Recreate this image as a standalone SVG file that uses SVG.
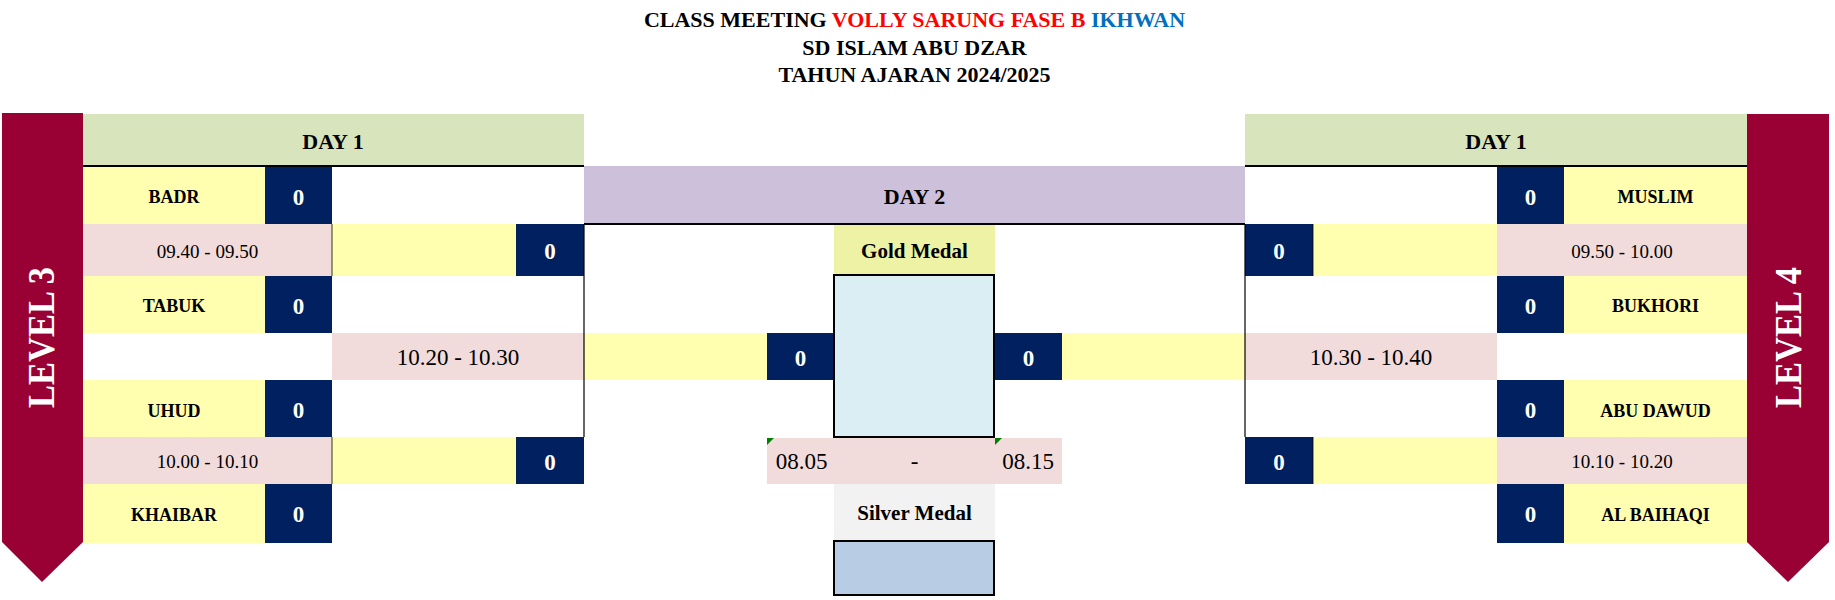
<svg xmlns="http://www.w3.org/2000/svg" width="1835" height="600" viewBox="0 0 1835 600">
<style>
text{font-family:"Liberation Serif","Times New Roman",serif;text-anchor:middle}
.bg{fill:#FFFFFF}
.hdr{fill:#D8E4BC}
.d2{fill:#CCC0DA}
.yl{fill:#FFFFAF}
.nv{fill:#002060}
.pk{fill:#F2DCDB}
.ban{fill:#990033}
.ttl{font-size:22px;font-weight:bold;fill:#000}
.day{font-size:22px;font-weight:bold;fill:#000}
.nm{font-size:18px;font-weight:bold;fill:#000}
.sc{font-size:23px;font-weight:bold;fill:#FFFFFF}
.ts{font-size:19px;fill:#000}
.tb{font-size:23px;fill:#000}
.md{font-size:21px;font-weight:bold;fill:#000}
.lv{font-size:37px;font-weight:bold;fill:#FFFFFF}
.ln{stroke:#000;fill:none}
.tri{fill:#008000}
</style>
<rect x="0" y="0" width="1835" height="600" class="bg"/>

<g id="title">
<text class="ttl" x="914.5" y="27"><tspan>CLASS MEETING </tspan><tspan fill="#FF0000">VOLLY SARUNG FASE B </tspan><tspan fill="#0070C0">IKHWAN</tspan></text>
<text class="ttl" x="914.5" y="55">SD ISLAM ABU DZAR</text>
<text class="ttl" x="914.5" y="82">TAHUN AJARAN 2024/2025</text>
</g>

<g id="level3">
<polygon class="ban" points="2,113 83,113 83,542 42,582 2,542"/>
<text class="lv" transform="translate(53.5,337.5) rotate(-90)" textLength="141" lengthAdjust="spacingAndGlyphs">LEVEL 3</text>
</g>
<g id="level4">
<polygon class="ban" points="1747,114 1829,114 1829,542 1788,582 1747,542"/>
<text class="lv" transform="translate(1800.5,337.5) rotate(-90)" textLength="141" lengthAdjust="spacingAndGlyphs">LEVEL 4</text>
</g>

<g id="day1-left">
<rect class="hdr" x="83" y="114" width="501" height="51"/>
<text class="day" x="333" y="149">DAY 1</text>
</g>
<g id="day1-right">
<rect class="hdr" x="1245" y="114" width="502" height="51"/>
<text class="day" x="1496" y="149">DAY 1</text>
</g>
<g id="day2">
<rect class="d2" x="584" y="166" width="661" height="58"/>
<text class="day" x="914.5" y="204">DAY 2</text>
</g>

<!-- left bracket -->
<g id="team-badr">
<rect class="yl" x="83" y="167" width="182" height="57"/>
<text class="nm" x="174" y="203.3">BADR</text>
<rect class="nv" x="265" y="167" width="67" height="57"/>
<text class="sc" x="298.5" y="205">0</text>
</g>
<g id="match1-left">
<rect class="pk" x="83" y="224" width="249" height="52"/>
<text class="ts" x="207.5" y="257.7">09.40 - 09.50</text>
<rect class="yl" x="332" y="224" width="184" height="52"/>
<rect class="nv" x="516" y="224" width="68" height="52"/>
<text class="sc" x="550" y="259">0</text>
</g>
<g id="team-tabuk">
<rect class="yl" x="83" y="276" width="182" height="57"/>
<text class="nm" x="174" y="312">TABUK</text>
<rect class="nv" x="265" y="276" width="67" height="57"/>
<text class="sc" x="298.5" y="313.5">0</text>
</g>
<g id="semi-left">
<rect class="pk" x="332" y="333" width="252" height="47"/>
<text class="tb" x="458" y="365">10.20 - 10.30</text>
<rect class="yl" x="584" y="333" width="183" height="47"/>
<rect class="nv" x="767" y="333" width="67" height="47"/>
<text class="sc" x="800.5" y="366">0</text>
</g>
<g id="team-uhud">
<rect class="yl" x="83" y="380" width="182" height="57"/>
<text class="nm" x="174" y="416.5">UHUD</text>
<rect class="nv" x="265" y="380" width="67" height="57"/>
<text class="sc" x="298.5" y="418">0</text>
</g>
<g id="match2-left">
<rect class="pk" x="83" y="437" width="249" height="47"/>
<text class="ts" x="207.5" y="468.3">10.00 - 10.10</text>
<rect class="yl" x="332" y="437" width="184" height="47"/>
<rect class="nv" x="516" y="437" width="68" height="47"/>
<text class="sc" x="550" y="470">0</text>
</g>
<g id="team-khaibar">
<rect class="yl" x="83" y="484" width="182" height="59"/>
<text class="nm" x="174" y="520.7">KHAIBAR</text>
<rect class="nv" x="265" y="484" width="67" height="59"/>
<text class="sc" x="298.5" y="522">0</text>
</g>

<!-- center -->
<g id="gold-medal">
<rect x="834" y="225" width="161" height="50" fill="#EDF2A4"/>
<text class="md" x="914.5" y="257.7">Gold Medal</text>
<rect x="834" y="275" width="160" height="162" fill="#DAEEF3" stroke="#000" stroke-width="2"/>
</g>
<g id="final-time">
<rect class="pk" x="767" y="438" width="295" height="46"/>
<text class="tb" x="801.5" y="469.3">08.05</text>
<text class="tb" x="914.5" y="469.3">-</text>
<text class="tb" x="1028" y="469.3">08.15</text>
<polygon class="tri" points="767,438 774,438 767,445"/>
<polygon class="tri" points="995,438 1002,438 995,445"/>
</g>
<g id="silver-medal">
<rect x="834" y="484" width="161" height="56" fill="#F2F2F2"/>
<text class="md" x="914.5" y="520">Silver Medal</text>
<rect x="834" y="541" width="160" height="54" fill="#B8CCE4" stroke="#000" stroke-width="2"/>
</g>

<!-- right bracket -->
<g id="team-muslim">
<rect class="nv" x="1497" y="167" width="67" height="57"/>
<text class="sc" x="1530.5" y="205">0</text>
<rect class="yl" x="1564" y="167" width="183" height="57"/>
<text class="nm" x="1655.5" y="203.3">MUSLIM</text>
</g>
<g id="match1-right">
<rect class="nv" x="1245" y="224" width="68" height="52"/>
<text class="sc" x="1279" y="259">0</text>
<rect class="yl" x="1313" y="224" width="184" height="52"/>
<rect class="pk" x="1497" y="224" width="250" height="52"/>
<text class="ts" x="1622" y="257.7">09.50 - 10.00</text>
</g>
<g id="team-bukhori">
<rect class="nv" x="1497" y="276" width="67" height="57"/>
<text class="sc" x="1530.5" y="313.5">0</text>
<rect class="yl" x="1564" y="276" width="183" height="57"/>
<text class="nm" x="1655.5" y="312">BUKHORI</text>
</g>
<g id="semi-right">
<rect class="nv" x="995" y="333" width="67" height="47"/>
<text class="sc" x="1028.5" y="366">0</text>
<rect class="yl" x="1062" y="333" width="183" height="47"/>
<rect class="pk" x="1245" y="333" width="252" height="47"/>
<text class="tb" x="1371" y="365">10.30 - 10.40</text>
</g>
<g id="team-abudawud">
<rect class="nv" x="1497" y="380" width="67" height="57"/>
<text class="sc" x="1530.5" y="418">0</text>
<rect class="yl" x="1564" y="380" width="183" height="57"/>
<text class="nm" x="1655.5" y="416.5">ABU DAWUD</text>
</g>
<g id="match2-right">
<rect class="nv" x="1245" y="437" width="68" height="47"/>
<text class="sc" x="1279" y="470">0</text>
<rect class="yl" x="1313" y="437" width="184" height="47"/>
<rect class="pk" x="1497" y="437" width="250" height="47"/>
<text class="ts" x="1622" y="468.3">10.10 - 10.20</text>
</g>
<g id="team-albaihaqi">
<rect class="nv" x="1497" y="484" width="67" height="59"/>
<text class="sc" x="1530.5" y="522">0</text>
<rect class="yl" x="1564" y="484" width="183" height="59"/>
<text class="nm" x="1655.5" y="520.7">AL BAIHAQI</text>
</g>

<g id="connectors">
<line class="ln" x1="83" y1="166" x2="584" y2="166" stroke-width="2"/>
<line class="ln" x1="1245" y1="166" x2="1747" y2="166" stroke-width="2"/>
<line class="ln" x1="584" y1="224" x2="1245" y2="224" stroke-width="2"/>
<line class="ln" x1="584" y1="224" x2="584" y2="437" stroke-width="1.2"/>
<line class="ln" x1="1245" y1="224" x2="1245" y2="437" stroke-width="1.2"/>
<line class="ln" x1="332" y1="224" x2="332" y2="276" stroke-width="0.8" stroke="#555"/>
<line class="ln" x1="332" y1="437" x2="332" y2="484" stroke-width="0.8" stroke="#555"/>
<line class="ln" x1="1313" y1="224" x2="1313" y2="276" stroke-width="0.8"/>
<line class="ln" x1="1313" y1="437" x2="1313" y2="484" stroke-width="0.8"/>
</g>
</svg>
